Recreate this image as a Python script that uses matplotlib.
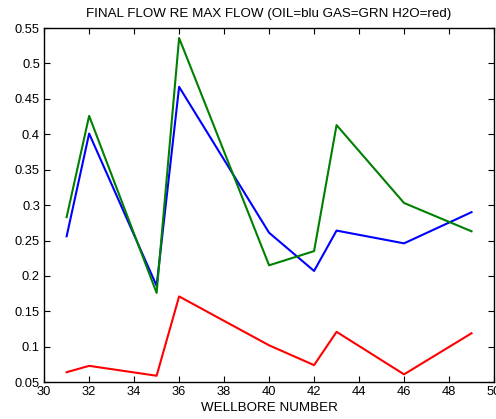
import matplotlib
matplotlib.use("Agg")
import matplotlib.pyplot as plt
from matplotlib.ticker import FuncFormatter

plt.rcParams['font.family'] = ['Liberation Sans', 'DejaVu Sans']

wells = [31, 32, 35, 36, 40, 42, 43, 46, 49]
oil = [0.256, 0.401, 0.186, 0.467, 0.261, 0.207, 0.264, 0.246, 0.290]
gas = [0.283, 0.426, 0.176, 0.536, 0.215, 0.235, 0.413, 0.303, 0.263]
h2o = [0.064, 0.073, 0.059, 0.171, 0.102, 0.074, 0.121, 0.061, 0.119]

xticks = list(range(30, 51, 2))
yticks = [0.05, 0.1, 0.15, 0.2, 0.25, 0.3, 0.35, 0.4, 0.45, 0.5, 0.55]

fig = plt.figure(figsize=(4.96, 4.19), dpi=100)
ax = fig.add_axes([0.089, 0.088, 0.907, 0.845])

ax.plot(wells, oil, color=(0, 0, 1), lw=1.5)
ax.plot(wells, gas, color=(0, 0.5, 0), lw=1.5)
ax.plot(wells, h2o, color=(1, 0, 0), lw=1.5)

ax.set_xlim(30, 50)
ax.set_ylim(0.05, 0.55)
ax.set_xticks(xticks)
ax.set_yticks(yticks)
ax.yaxis.set_major_formatter(FuncFormatter(lambda v, p: f"{v:g}"))
ax.tick_params(direction='in', top=True, right=True, labelsize=9.3, length=4, width=0.8, pad=3)
for s in ax.spines.values():
    s.set_linewidth(1.0)

ax.set_title("FINAL FLOW RE MAX FLOW (OIL=blu GAS=GRN H2O=red)", fontsize=9.6, pad=8)
ax.set_xlabel("WELLBORE NUMBER", fontsize=9.6, labelpad=3)

fig.savefig("out.png", dpi=100)
